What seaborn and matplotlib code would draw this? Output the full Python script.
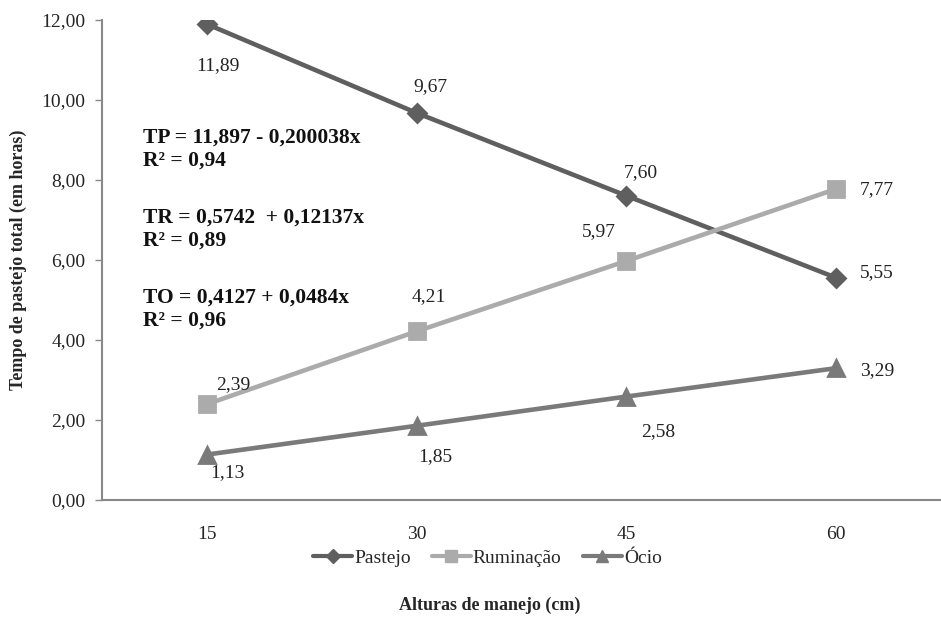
import pandas as pd
import matplotlib.pyplot as plt
import seaborn as sns

# data
alturas = ['15', '30', '45', '60']
pastejo = [11.89, 9.67, 7.60, 5.55]
ruminacao = [2.39, 4.21, 5.97, 7.77]
ocio = [1.13, 1.85, 2.58, 3.29]
series_names = ['Pastejo', 'Ruminação', 'Ócio']
y_ticks = [0, 2, 4, 6, 8, 10, 12]
equations = ['TP = 11,897 - 0,200038x\nR² = 0,94',
             'TR = 0,5742  + 0,12137x\nR² = 0,89',
             'TO = 0,4127 + 0,0484x\nR² = 0,96']

df = pd.DataFrame({
    'altura': alturas * 3,
    'valor': pastejo + ruminacao + ocio,
    'serie': [s for s in series_names for _ in alturas],
})

sns.set_theme(style="white")
plt.rcParams['font.family'] = ['Liberation Serif', 'DejaVu Serif']

colors = ['#5f5f5f', '#ababab', '#7a7a7a']
markers = ['D', 's', '^']
msizes = [9, 11, 11]

fig = plt.figure(figsize=(9.41, 6.17), dpi=100)
ax = fig.add_axes([0.1085, 0.19, 0.8915, 0.778])

sns.pointplot(data=df, x='altura', y='valor', hue='serie', order=alturas,
              hue_order=series_names, palette=colors, markers=markers,
              linestyles='-', errorbar=None, ax=ax, legend=False)

for line, ms in zip(ax.lines, msizes):
    line.set_linewidth(3.3)
    line.set_markersize(ms)

# data label offsets in pixels, per series
offsets = {
    'Pastejo': [(11, -41), (14, 26), (14, 23), (41, 5)],
    'Ruminação': [(26, 20), (12, 35), (-28, 29), (41, -1)],
    'Ócio': [(20, -18), (19, -31), (32, -35), (41, -2)],
}
for name, vals in zip(series_names, [pastejo, ruminacao, ocio]):
    for i, v in enumerate(vals):
        dx, dy = offsets[name][i]
        ax.annotate(f'{v:.2f}'.replace('.', ','), (i, v), xytext=(dx, dy),
                    textcoords='offset pixels', ha='center', va='center',
                    fontsize=14, color='#222222')

for k, eq in enumerate(equations):
    ax.text(0.049, 0.775 - k * 0.1667, eq, transform=ax.transAxes,
            fontsize=15.5, fontweight='bold', va='top', ha='left',
            linespacing=1.2, color='#111111')

ax.set_xlim(-0.5, 3.5)
ax.set_ylim(0, 12)
ax.set_yticks(y_ticks)
ax.set_yticklabels([f'{t:.2f}'.replace('.', ',') for t in y_ticks])
ax.tick_params(axis='y', which='major', left=True, length=5, width=1,
               color='#888888', labelsize=14, pad=7)
ax.tick_params(axis='x', bottom=False, labelsize=14, pad=13)
for side in ['top', 'right']:
    ax.spines[side].set_visible(False)
for side in ['left', 'bottom']:
    ax.spines[side].set_color('#888888')
    ax.spines[side].set_linewidth(1.5)

ax.set_xlabel('Alturas de manejo (cm)', fontsize=13, fontweight='bold')
ax.xaxis.set_label_coords(0.462, -0.219)
ax.xaxis.label.set_va('center')
ax.set_ylabel('Tempo de pastejo total (em horas)', fontsize=13,
              fontweight='bold')
ax.yaxis.set_label_coords(-0.100, 0.5)
ax.yaxis.label.set_va('center')

handles = [plt.Line2D([], [], color=c, marker=m, markersize=s * 0.75,
                      linewidth=3) for c, m, s in zip(colors, markers, msizes)]
fig.legend(handles, series_names, loc='center', bbox_to_anchor=(0.518, 0.095),
           ncol=3, frameon=False, fontsize=14, handlelength=2,
           handletextpad=0.1, columnspacing=1.1)

plt.savefig('out.png', dpi=100)
plt.close()
